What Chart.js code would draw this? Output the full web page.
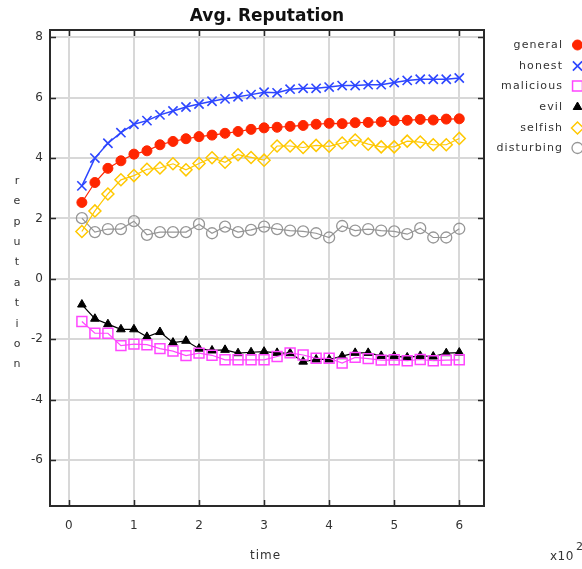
<!DOCTYPE html>
<html>
<head>
<meta charset="utf-8">
<script src="https://cdn.jsdelivr.net/npm/chart.js@4/dist/chart.umd.min.js"></script>
<style>
  html, body { margin: 0; padding: 0; background: #fff; }
  #c { display: block; }
</style>
</head>
<body>
<canvas id="c" width="582" height="569"></canvas>
<script>
// ---- data ----
const times = [0.2,0.4,0.6,0.8,1.0,1.2,1.4,1.6,1.8,2.0,2.2,2.4,2.6,2.8,3.0,3.2,3.4,3.6,3.8,4.0,4.2,4.4,4.6,4.8,5.0,5.2,5.4,5.6,5.8,6.0];
const general = [2.53,3.19,3.66,3.91,4.13,4.24,4.44,4.55,4.64,4.71,4.76,4.82,4.88,4.95,5.00,5.02,5.05,5.08,5.12,5.15,5.14,5.17,5.18,5.20,5.24,5.25,5.28,5.26,5.29,5.30];
const honest = [3.08,4.00,4.49,4.84,5.12,5.24,5.43,5.56,5.69,5.79,5.88,5.96,6.03,6.10,6.18,6.16,6.28,6.31,6.31,6.35,6.40,6.40,6.43,6.43,6.50,6.57,6.61,6.61,6.61,6.65];
const malicious = [-1.41,-1.80,-1.80,-2.21,-2.16,-2.18,-2.31,-2.39,-2.54,-2.46,-2.53,-2.68,-2.68,-2.68,-2.68,-2.57,-2.45,-2.52,-2.63,-2.63,-2.79,-2.60,-2.64,-2.69,-2.68,-2.71,-2.67,-2.71,-2.69,-2.68];
const evil = [-0.85,-1.32,-1.50,-1.67,-1.67,-1.92,-1.76,-2.11,-2.05,-2.31,-2.37,-2.35,-2.46,-2.43,-2.41,-2.45,-2.46,-2.74,-2.67,-2.67,-2.56,-2.45,-2.45,-2.55,-2.56,-2.60,-2.55,-2.57,-2.46,-2.44];
const selfish = [1.57,2.25,2.81,3.28,3.42,3.63,3.67,3.81,3.61,3.82,4.01,3.86,4.11,4.02,3.93,4.40,4.40,4.35,4.42,4.39,4.50,4.60,4.46,4.37,4.37,4.56,4.53,4.44,4.44,4.65];
const disturbing = [2.01,1.55,1.65,1.65,1.91,1.46,1.55,1.55,1.55,1.81,1.51,1.73,1.55,1.62,1.73,1.65,1.60,1.57,1.51,1.37,1.75,1.60,1.65,1.60,1.57,1.48,1.68,1.37,1.37,1.66];
const xTickValues = [0,1,2,3,4,5,6];
const yTickValues = [-6,-4,-2,0,2,4,6,8];
const seriesNames = ['general','honest','malicious','evil','selfish','disturbing'];
const chartTitle = 'Avg. Reputation';
const xTitle = 'time';
const yTitle = 'reputation';
const xMultiplier = 'x10';
const xExponent = '2';

// ---- styles ----
const styles = {
  general:    { color: 'rgb(255,38,0)',   fill: 'rgb(255,38,0)',   style: 'circle',   radius: 5,   bw: 1 },
  honest:     { color: 'rgb(45,70,255)',  fill: 'rgba(0,0,0,0)',   style: 'crossRot', radius: 6.5, bw: 1.6 },
  malicious:  { color: 'rgb(255,70,255)', fill: 'rgba(0,0,0,0)',   style: 'rect',     radius: 7,   bw: 1.5 },
  evil:       { color: 'rgb(0,0,0)',      fill: 'rgb(0,0,0)',      style: 'triangle', radius: 5,   bw: 1 },
  selfish:    { color: 'rgb(255,200,0)',  fill: 'rgba(0,0,0,0)',   style: 'rectRot',  radius: 6,   bw: 1.5 },
  disturbing: { color: 'rgb(150,150,150)',fill: 'rgba(0,0,0,0)',   style: 'circle',   radius: 5.5, bw: 1.3 }
};
const seriesData = { general, honest, malicious, evil, selfish, disturbing };

const datasets = seriesNames.map(name => {
  const s = styles[name];
  return {
    label: name,
    data: times.map((t, i) => ({ x: t, y: seriesData[name][i] })),
    borderColor: s.color,
    backgroundColor: s.fill,
    borderWidth: name === 'honest' ? 1.5 : 1.2,
    pointStyle: s.style,
    pointRadius: s.radius,
    pointBorderWidth: s.bw,
    pointBorderColor: s.color,
    pointBackgroundColor: s.fill,
    tension: 0,
    fill: false
  };
});

const FONT = '"DejaVu Sans", Verdana, sans-serif';

function drawSpaced(ctx, text, x, y, spacing, align) {
  const chars = text.split('');
  const widths = chars.map(c => ctx.measureText(c).width);
  const total = widths.reduce((a, b) => a + b, 0) + spacing * (chars.length - 1);
  let start = align === 'right' ? x - total : (align === 'center' ? x - total / 2 : x);
  ctx.textAlign = 'left';
  chars.forEach((c, i) => { ctx.fillText(c, start, y); start += widths[i] + spacing; });
}

function drawMarker(ctx, name, x, y) {
  const s = styles[name];
  ctx.save();
  ctx.strokeStyle = s.color;
  ctx.fillStyle = s.fill;
  ctx.lineWidth = s.bw;
  if (Chart.helpers && Chart.helpers.drawPoint) {
    Chart.helpers.drawPoint(ctx, { pointStyle: s.style, radius: s.radius, borderWidth: s.bw, rotation: 0 }, x, y);
  }
  ctx.restore();
}

const decorPlugin = {
  id: 'decor',
  afterDraw(chart) {
    const ctx = chart.ctx;
    const a = chart.chartArea;
    const xs = chart.scales.x, ys = chart.scales.y;
    ctx.save();
    // frame
    ctx.strokeStyle = '#2a2a2a';
    ctx.lineWidth = 2;
    ctx.strokeRect(a.left, a.top, a.right - a.left, a.bottom - a.top);
    // inward ticks
    ctx.lineWidth = 1.5;
    const tl = 6;
    xTickValues.forEach(v => {
      const px = Math.round(xs.getPixelForValue(v)) + 0.5;
      ctx.beginPath();
      ctx.moveTo(px, a.bottom); ctx.lineTo(px, a.bottom - tl);
      ctx.moveTo(px, a.top); ctx.lineTo(px, a.top + tl);
      ctx.stroke();
    });
    yTickValues.forEach(v => {
      const py = Math.round(ys.getPixelForValue(v)) + 0.5;
      ctx.beginPath();
      ctx.moveTo(a.left, py); ctx.lineTo(a.left + tl, py);
      ctx.moveTo(a.right, py); ctx.lineTo(a.right - tl, py);
      ctx.stroke();
    });
    // title
    ctx.fillStyle = '#111';
    ctx.font = 'bold 17px ' + FONT;
    ctx.textBaseline = 'alphabetic';
    ctx.textAlign = 'center';
    ctx.fillText(chartTitle, (a.left + a.right) / 2, 21);
    // axis titles
    ctx.fillStyle = '#333';
    ctx.font = '12px ' + FONT;
    ctx.textBaseline = 'middle';
    drawSpaced(ctx, xTitle, (a.left + a.right) / 2 - 2, 556, 1, 'center');
    ctx.font = '11px ' + FONT;
    ctx.textAlign = 'center';
    yTitle.split('').forEach((c, i) => {
      ctx.fillText(c, 17, 181 + i * 20.4);
    });
    // multiplier
    ctx.font = '12px ' + FONT;
    drawSpaced(ctx, xMultiplier, 550, 557, 0.5, 'left');
    ctx.font = '11px ' + FONT;
    ctx.textAlign = 'left';
    ctx.fillText(xExponent, 576, 547);
    // legend
    ctx.font = '11px ' + FONT;
    ctx.fillStyle = '#333';
    ctx.textBaseline = 'middle';
    const rowY = [45, 66, 86, 107, 128, 148];
    seriesNames.forEach((n, i) => {
      drawSpaced(ctx, n, 562, rowY[i], 1.1, 'right');
      drawMarker(ctx, n, 577.5, rowY[i]);
    });
    ctx.restore();
  }
};

new Chart(document.getElementById('c'), {
  type: 'line',
  data: { datasets },
  plugins: [decorPlugin],
  options: {
    responsive: false,
    animation: false,
    devicePixelRatio: 1,
    layout: { padding: { top: 30, left: 0, right: 98, bottom: 0 } },
    plugins: { legend: { display: false }, title: { display: false }, tooltip: { enabled: false } },
    scales: {
      x: {
        type: 'linear',
        min: -0.29,
        max: 6.38,
        afterFit: s => { s.height = 63; },
        afterBuildTicks: s => { s.ticks = xTickValues.map(v => ({ value: v })); },
        grid: { color: '#d8d8d8', lineWidth: 2, drawTicks: false },
        border: { display: false },
        ticks: { padding: 13, color: '#333', font: { family: FONT, size: 12 }, callback: v => String(v), maxRotation: 0 }
      },
      y: {
        type: 'linear',
        min: -7.52,
        max: 8.24,
        afterFit: s => { s.width = 50; },
        afterBuildTicks: s => { s.ticks = yTickValues.map(v => ({ value: v })); },
        grid: { color: '#d8d8d8', lineWidth: 2, drawTicks: false },
        border: { display: false },
        ticks: { padding: 7, color: '#333', font: { family: FONT, size: 12 }, callback: v => String(v) }
      }
    }
  }
});
</script>
</body>
</html>
